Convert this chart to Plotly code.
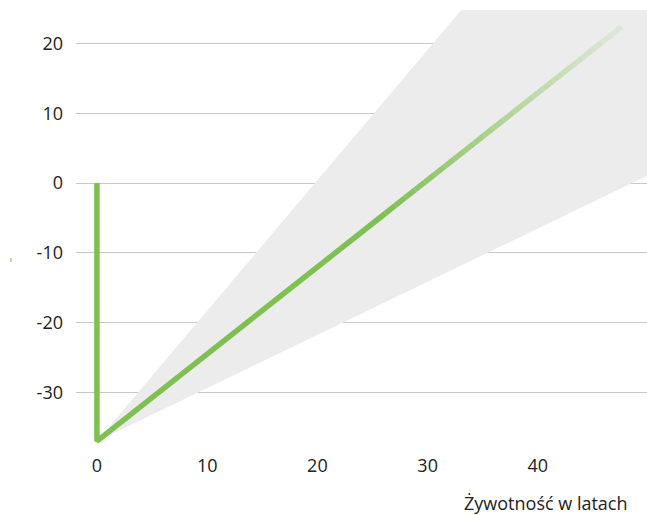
import plotly.graph_objects as go

# Data
line_x = [0, 0, 47.6]
line_y = [0, -37.0, 22.4]
cone_x = [0, 50, 50]
cone_y = [-37.0, 56.5, 1.1]
x_ticks = [0, 10, 20, 30, 40]
y_ticks = [-30, -20, -10, 0, 10, 20]
y_tick_labels = ["-30", "-20", "-10", "0", "10", "20"]
x_title = "Żywotność w latach"

GREEN = (128, 192, 82)
BG = (236, 236, 236)

fig = go.Figure()

# Uncertainty cone
fig.add_trace(go.Scatter(
    x=cone_x + [cone_x[0]], y=cone_y + [cone_y[0]],
    mode="lines", fill="toself", fillcolor="rgb(236,236,236)",
    line=dict(width=0), hoverinfo="skip", showlegend=False))

# Solid part of the line
fade_start = 0.55
n = 24
x0, y0 = line_x[1], line_y[1]
x1, y1 = line_x[2], line_y[2]
xs = x0 + (x1 - x0) * fade_start
ys = y0 + (y1 - y0) * fade_start
fig.add_trace(go.Scatter(
    x=line_x[:2] + [xs], y=line_y[:2] + [ys], mode="lines",
    line=dict(color="rgb(%d,%d,%d)" % GREEN, width=5.5),
    hoverinfo="skip", showlegend=False))

# Fading tail (opaque blends toward cone background)
for i in range(n):
    ta = fade_start + (1 - fade_start) * i / n
    tb = fade_start + (1 - fade_start) * (i + 1) / n
    f = (i + 0.5) / n
    a = 1 - 0.9 * f
    c = tuple(int(round(g * a + b * (1 - a))) for g, b in zip(GREEN, BG))
    fig.add_trace(go.Scatter(
        x=[x0 + (x1 - x0) * ta, x0 + (x1 - x0) * tb],
        y=[y0 + (y1 - y0) * ta, y0 + (y1 - y0) * tb],
        mode="lines", line=dict(color="rgb(%d,%d,%d)" % c, width=5.5),
        hoverinfo="skip", showlegend=False))

fig.update_layout(
    width=647, height=515,
    margin=dict(l=76, r=0, t=10, b=62),
    paper_bgcolor="white", plot_bgcolor="white",
    font=dict(family="Open Sans", size=18, color="#222"),
    xaxis=dict(range=[-1.9, 49.9], tickvals=x_ticks, showgrid=False,
               zeroline=False, showline=False, ticks="", automargin=False),
    yaxis=dict(range=[-38.7, 24.8], tickvals=y_ticks, ticktext=y_tick_labels,
               showgrid=True, gridcolor="#c8c8c8", gridwidth=1, zeroline=False,
               showline=False, ticks="", ticklabelstandoff=12, automargin=False),
    annotations=[
        dict(text=x_title, xref="paper", yref="paper", x=1, y=0,
             xanchor="right", yanchor="top", xshift=-17, yshift=-36,
             showarrow=False, font=dict(size=18, color="#222")),
        dict(text="ı", xref="paper", yref="y", x=0, y=-10.9,
             xanchor="center", yanchor="middle", xshift=-65,
             showarrow=False, font=dict(size=7, color="#555")),
    ],
)

fig.write_html(
    "out.html",
    config={"displayModeBar": False},
    post_script="document.body.style.margin='0';document.body.style.overflow='hidden';",
)
